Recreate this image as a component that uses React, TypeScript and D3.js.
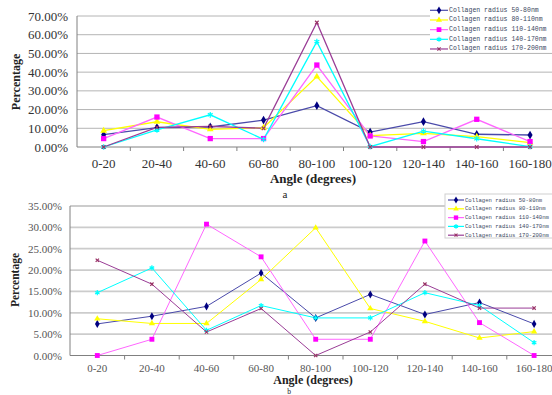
import React from "react";
import * as d3 from "d3";

const categories = ["0-20", "20-40", "40-60", "60-80", "80-100", "100-120", "120-140", "140-160", "160-180"];
const seriesNames = [
  "Collagen radius 50-80nm",
  "Collagen radius 80-110nm",
  "Collagen radius 110-140nm",
  "Collagen radius 140-170nm",
  "Collagen radius 170-200nm",
];

// Chart a values (fractions)
const aR50 = [0.066, 0.103, 0.107, 0.144, 0.221, 0.08, 0.135, 0.068, 0.064];
const aR80 = [0.087, 0.135, 0.094, 0.103, 0.376, 0.061, 0.073, 0.055, 0.023];
const aR110 = [0.045, 0.16, 0.045, 0.045, 0.438, 0.059, 0.029, 0.148, 0.029];
const aR140 = [0.0, 0.091, 0.172, 0.041, 0.563, 0.002, 0.085, 0.044, 0.002];
const aR170 = [0.0, 0.105, 0.11, 0.1, 0.665, 0.0, 0.0, 0.0, 0.0];

// Chart b values (fractions)
const bR50 = [0.074, 0.092, 0.115, 0.193, 0.088, 0.143, 0.096, 0.124, 0.074];
const bR80 = [0.086, 0.075, 0.075, 0.178, 0.299, 0.11, 0.08, 0.041, 0.056];
const bR110 = [0.0, 0.038, 0.3075, 0.231, 0.038, 0.038, 0.268, 0.077, 0.0];
const bR140 = [0.147, 0.205, 0.059, 0.117, 0.088, 0.088, 0.147, 0.117, 0.03];
const bR170 = [0.223, 0.167, 0.055, 0.11, 0.0, 0.055, 0.167, 0.111, 0.111];

const aTicks = [0, 0.1, 0.2, 0.3, 0.4, 0.5, 0.6, 0.7];
const bTicks = [0, 0.05, 0.1, 0.15, 0.2, 0.25, 0.3, 0.35];

const SERIF = "'Liberation Serif', 'Times New Roman', Times, 'DejaVu Serif', serif";
const MONO = "'Liberation Mono', 'DejaVu Sans Mono', monospace";

const styles = [
  { line: "#4a4aaa", fill: "#000080", sym: d3.symbolDiamond, size: 22, stroke: false },
  { line: "#ffff00", fill: "#ffff00", sym: d3.symbolTriangle, size: 20, stroke: false },
  { line: "#ff66ff", fill: "#ff00ff", sym: d3.symbolSquare, size: 28, stroke: false },
  { line: "#00ffff", fill: "#00ffff", sym: d3.symbolAsterisk, size: 22, stroke: true },
  { line: "#9a3d96", fill: "#993366", sym: d3.symbolX, size: 10, stroke: true },
];

const fmt = d3.format(".2f");
const pct = (v: number) => fmt(v * 100) + "%";

type ChartProps = {
  data: number[][];
  ticks: number[];
  left: number;
  step: number;
  top: number;
  bottom: number;
  yMax: number;
  yFont: number;
  yColor: string;
  yLabelX: number;
  xFont: number;
  xColor: string;
  xLabelY: number;
  titleY: number;
  titleFont: number;
  percentX: number;
  percentY: number;
  percentFont: number;
  gridColor: string;
  gridWidth: number;
  lineWidth: number;
  markerScale: number;
  legend: { x: number; y: number; w: number; h: number; row0: number; rowStep: number; lineX0: number; lineX1: number; textX: number; font: number; border: boolean };
  letter: string;
  letterX: number;
  letterY: number;
  letterFont: number;
};

function Chart(p: ChartProps) {
  const x = d3.scaleBand<string>().domain(categories).range([p.left, p.left + p.step * categories.length]);
  const y = d3.scaleLinear().domain([0, p.yMax]).range([p.bottom, p.top]);
  const cx = (c: string) => (x(c) as number) + x.bandwidth() / 2;
  const line = d3
    .line<number>()
    .x((_, i) => cx(categories[i]))
    .y((d) => y(d));
  const L = p.legend;
  return (
    <g>
      {p.ticks.slice(1).map((t) => (
        <line key={"g" + t} x1={p.left} x2={560} y1={y(t)} y2={y(t)} stroke={p.gridColor} strokeWidth={p.gridWidth} />
      ))}
      {p.ticks.map((t) => (
        <text key={"y" + t} x={p.yLabelX} y={y(t)} textAnchor="end" dominantBaseline="central" fontSize={p.yFont} fill={p.yColor} style={{ fontFamily: SERIF }}>
          {pct(t)}
        </text>
      ))}
      <line x1={p.left} x2={p.left} y1={p.top} y2={p.bottom} stroke="#808080" strokeWidth={1} />
      <line x1={p.left} x2={560} y1={p.bottom} y2={p.bottom} stroke="#808080" strokeWidth={1} />
      {categories.map((c, i) => (
        <line key={"t" + c} x1={p.left + p.step * (i + 1)} x2={p.left + p.step * (i + 1)} y1={p.bottom} y2={p.bottom + 4} stroke="#808080" />
      ))}
      {categories.map((c) => (
        <text key={"x" + c} x={cx(c)} y={p.xLabelY} textAnchor="middle" dominantBaseline="central" fontSize={p.xFont} fill={p.xColor} style={{ fontFamily: SERIF }}>
          {c}
        </text>
      ))}
      <text x={313} y={p.titleY} textAnchor="middle" dominantBaseline="central" fontSize={p.titleFont} fontWeight="bold" fill="#222" style={{ fontFamily: SERIF }}>
        Angle (degrees)
      </text>
      <text x={p.letterX} y={p.letterY} textAnchor="middle" dominantBaseline="central" fontSize={p.letterFont} fill="#222" style={{ fontFamily: SERIF }}>
        {p.letter}
      </text>
      <text
        transform={`translate(${p.percentX},${p.percentY}) rotate(-90)`}
        textAnchor="middle"
        dominantBaseline="central"
        fontSize={p.percentFont}
        fontWeight="bold"
        fill="#222"
        style={{ fontFamily: SERIF }}
      >
        Percentage
      </text>
      {p.data.map((s, si) => (
        <path key={"l" + si} d={line(s) || ""} fill="none" stroke={styles[si].line} strokeWidth={p.lineWidth} />
      ))}
      {p.data.map((s, si) =>
        s.map((v, i) => {
          const st = styles[si];
          const path = d3.symbol().type(st.sym).size(st.size * p.markerScale)() || "";
          return (
            <path
              key={"m" + si + "-" + i}
              d={path}
              transform={`translate(${cx(categories[i])},${y(v)})`}
              fill={st.stroke ? "none" : st.fill}
              stroke={st.stroke ? st.fill : "none"}
              strokeWidth={st.stroke ? 1.2 : 0}
            />
          );
        })
      )}
      <rect x={L.x} y={L.y} width={L.w} height={L.h} fill="#fff" stroke={L.border ? "#d0d0d0" : "none"} />
      {seriesNames.map((n, si) => {
        const st = styles[si];
        const ry = L.row0 + L.rowStep * si;
        const mx = (L.lineX0 + L.lineX1) / 2;
        const path = d3.symbol().type(st.sym).size(st.size * p.markerScale * 0.8)() || "";
        return (
          <g key={"lg" + si}>
            <line x1={L.lineX0} x2={L.lineX1} y1={ry} y2={ry} stroke={st.line} strokeWidth={1.2} />
            <path d={path} transform={`translate(${mx},${ry})`} fill={st.stroke ? "none" : st.fill} stroke={st.stroke ? st.fill : "none"} strokeWidth={st.stroke ? 1.1 : 0} />
            <text x={L.textX} y={ry} dominantBaseline="central" fontSize={L.font} fill="#3a4660" style={{ fontFamily: MONO }}>
              {n}
            </text>
          </g>
        );
      })}
    </g>
  );
}

export default function App() {
  return (
    <svg width={552} height={395} style={{ position: "absolute", left: 0, top: 0, background: "#fff" }}>
      <rect x={0} y={0} width={552} height={395} fill="#fff" />
      <Chart
        data={[aR50, aR80, aR110, aR140, aR170]}
        ticks={aTicks}
        left={77}
        step={53.3}
        top={16}
        bottom={147}
        yMax={0.7}
        yFont={13}
        yColor="#333"
        yLabelX={68}
        xFont={13}
        xColor="#333"
        xLabelY={163.5}
        titleY={178}
        titleFont={13}
        percentX={16}
        percentY={82}
        percentFont={12}
        gridColor="#b4b4b4"
        gridWidth={1}
        lineWidth={1.3}
        markerScale={1}
        legend={{ x: 430, y: 4, w: 130, h: 48, row0: 10.3, rowStep: 9.67, lineX0: 430, lineX1: 448, textX: 449, font: 6.5, border: false }}
        letter="a"
        letterX={285}
        letterY={194}
        letterFont={11}
      />
      <Chart
        data={[bR50, bR80, bR110, bR140, bR170]}
        ticks={bTicks}
        left={70}
        step={54.6}
        top={206}
        bottom={355.5}
        yMax={0.35}
        yFont={11}
        yColor="#555"
        yLabelX={62}
        xFont={11}
        xColor="#555"
        xLabelY={368}
        titleY={379.5}
        titleFont={12}
        percentX={15}
        percentY={280}
        percentFont={11.5}
        gridColor="#cccccc"
        gridWidth={1.8}
        lineWidth={1}
        markerScale={0.85}
        legend={{ x: 445, y: 194, w: 120, h: 44, row0: 200, rowStep: 8.8, lineX0: 448, lineX1: 464, textX: 465, font: 5.6, border: true }}
        letter="b"
        letterX={289}
        letterY={391}
        letterFont={7.5}
      />
    </svg>
  );
}
